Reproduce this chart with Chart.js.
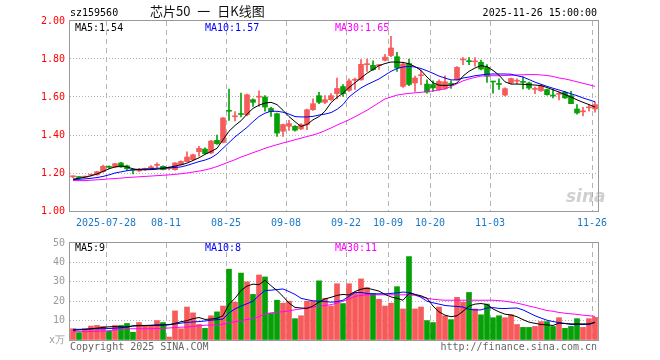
<!DOCTYPE html>
<html>
<head>
<meta charset="utf-8">
<script src="https://cdn.jsdelivr.net/npm/chart.js@4.4.1/dist/chart.umd.min.js"></script>
<style>
  body { margin: 0; background: #fff; }
  #wrap { position: relative; width: 660px; height: 360px; overflow: hidden; }
  canvas { position: absolute; left: 0; }
  .txt { position: absolute; font-family: 'DejaVu Sans Mono', monospace; font-size: 10px; line-height: 10px; white-space: pre; }
</style>
</head>
<body>
<div id="wrap">
  <canvas id="kline" width="660" height="232" style="top:0"></canvas>
  <canvas id="vol" width="660" height="128" style="top:232px"></canvas>

  <div class="txt" style="left:70px;top:8px;color:#000">sz159560</div>
  <div class="txt" style="left:150px;top:4px;font-family:'Noto Sans CJK SC',sans-serif;font-size:13px;line-height:14px;word-spacing:4px;color:#111">芯片50 一 日K线图</div>
  <div class="txt" style="left:397px;top:8px;width:200px;text-align:right;color:#000">2025-11-26 15:00:00</div>

  <div class="txt" style="left:75px;top:23px;color:#000">MA5:1.54</div>
  <div class="txt" style="left:205px;top:23px;color:#0000ff">MA10:1.57</div>
  <div class="txt" style="left:335px;top:23px;color:#ff00ff">MA30:1.65</div>

  <div class="txt" style="left:75px;top:243px;color:#000">MA5:9</div>
  <div class="txt" style="left:205px;top:243px;color:#0000ff">MA10:8</div>
  <div class="txt" style="left:335px;top:243px;color:#ff00ff">MA30:11</div>

  <div class="txt" style="left:566px;top:187px;font-family:'DejaVu Sans',sans-serif;font-size:17px;line-height:18px;font-weight:bold;font-style:italic;color:rgba(170,170,170,0.55)">sina</div>

  <div class="txt" style="left:70px;top:342px;color:#666">Copyright 2025 SINA.COM</div>
  <div class="txt" style="left:397px;top:342px;width:200px;text-align:right;color:#666">http://finance.sina.com.cn</div>
</div>

<script>
const dates = [
  '07-18','07-21','07-22','07-23','07-24','07-25','07-28','07-29','07-30','07-31',
  '08-01','08-04','08-05','08-06','08-07','08-08','08-11','08-12','08-13','08-14',
  '08-15','08-18','08-19','08-20','08-21','08-22','08-25','08-26','08-27','08-28',
  '08-29','09-01','09-02','09-03','09-04','09-05','09-08','09-09','09-10','09-11',
  '09-12','09-15','09-16','09-17','09-18','09-19','09-22','09-23','09-24','09-25',
  '09-26','09-29','09-30','10-09','10-10','10-13','10-14','10-15','10-16','10-17',
  '10-20','10-21','10-22','10-23','10-24','10-27','10-28','10-29','10-30','10-31',
  '11-03','11-04','11-05','11-06','11-07','11-10','11-11','11-12','11-13','11-14',
  '11-17','11-18','11-19','11-20','11-21','11-24','11-25','11-26'
];

// dates that get a label and a dashed line
const tickDates = ['07-28','08-11','08-25','09-08','09-22','10-09','10-20','11-03','11-26'];
const tickLabels = ['2025-07-28','08-11','08-25','09-08','09-22','10-09','10-20','11-03','11-26'];

const priceTicks = [1.0, 2.0, 0.2];   // min, max, step
const volTicks = [0, 50, 10];

const open = [
  1.180,1.178,1.178,1.188,1.190,1.207,1.232,1.231,1.253,1.238,
  1.217,1.211,1.219,1.227,1.240,1.235,1.224,1.218,1.244,1.260,
  1.270,1.312,1.326,1.305,1.372,1.361,1.530,1.496,1.512,1.507,
  1.586,1.599,1.600,1.540,1.512,1.420,1.446,1.446,1.432,1.455,
  1.533,1.607,1.572,1.586,1.618,1.655,1.635,1.688,1.690,1.770,
  1.767,1.765,1.793,1.818,1.812,1.656,1.776,1.674,1.712,1.668,
  1.665,1.639,1.645,1.670,1.691,1.795,1.790,1.785,1.783,1.756,
  1.681,1.668,1.610,1.674,1.683,1.680,1.674,1.640,1.633,1.639,
  1.608,1.614,1.625,1.607,1.537,1.522,1.543,1.537
];
const high = [
  1.185,1.180,1.184,1.194,1.209,1.242,1.238,1.251,1.256,1.242,
  1.220,1.224,1.226,1.239,1.253,1.238,1.232,1.255,1.264,1.312,
  1.300,1.340,1.332,1.372,1.400,1.492,1.642,1.523,1.620,1.615,
  1.590,1.632,1.607,1.545,1.515,1.458,1.477,1.450,1.460,1.536,
  1.590,1.625,1.607,1.618,1.700,1.665,1.695,1.700,1.797,1.800,
  1.790,1.772,1.825,1.919,1.835,1.780,1.800,1.710,1.740,1.690,
  1.685,1.690,1.712,1.685,1.760,1.808,1.808,1.808,1.794,1.770,
  1.682,1.696,1.648,1.700,1.696,1.706,1.678,1.652,1.665,1.642,
  1.640,1.626,1.630,1.630,1.560,1.545,1.560,1.575
];
const low = [
  1.175,1.172,1.176,1.184,1.188,1.205,1.224,1.229,1.230,1.214,
  1.195,1.208,1.214,1.224,1.228,1.216,1.216,1.215,1.242,1.258,
  1.266,1.288,1.300,1.300,1.350,1.358,1.477,1.474,1.495,1.500,
  1.550,1.550,1.525,1.498,1.393,1.393,1.424,1.420,1.428,1.428,
  1.530,1.565,1.565,1.582,1.590,1.603,1.630,1.640,1.688,1.735,
  1.740,1.745,1.790,1.812,1.735,1.650,1.660,1.630,1.665,1.620,
  1.630,1.636,1.640,1.645,1.688,1.770,1.770,1.762,1.743,1.677,
  1.620,1.640,1.606,1.670,1.670,1.643,1.640,1.618,1.630,1.610,
  1.595,1.585,1.592,1.565,1.510,1.500,1.525,1.520
];
const close = [
  1.182,1.176,1.181,1.190,1.207,1.235,1.230,1.249,1.232,1.222,
  1.214,1.221,1.221,1.233,1.242,1.218,1.227,1.253,1.261,1.284,
  1.296,1.330,1.302,1.368,1.354,1.490,1.525,1.499,1.508,1.612,
  1.572,1.601,1.547,1.523,1.410,1.455,1.460,1.425,1.455,1.533,
  1.565,1.572,1.586,1.607,1.645,1.618,1.685,1.692,1.772,1.775,
  1.744,1.770,1.810,1.858,1.753,1.774,1.666,1.700,1.716,1.626,
  1.648,1.682,1.680,1.666,1.756,1.798,1.786,1.790,1.747,1.709,
  1.679,1.666,1.644,1.697,1.686,1.677,1.647,1.643,1.660,1.612,
  1.605,1.616,1.595,1.565,1.516,1.526,1.546,1.560
];

const ma5 = [
  1.168,1.172,1.178,1.185,1.195,1.208,1.222,1.232,1.237,1.232,
  1.222,1.217,1.217,1.218,1.220,1.224,1.230,1.236,1.243,1.252,
  1.266,1.280,1.298,1.313,1.330,1.375,1.420,1.450,1.475,1.510,
  1.540,1.557,1.568,1.572,1.560,1.530,1.497,1.470,1.445,1.455,
  1.480,1.497,1.525,1.570,1.598,1.620,1.650,1.675,1.700,1.725,
  1.745,1.765,1.776,1.784,1.784,1.782,1.775,1.760,1.740,1.705,
  1.675,1.662,1.661,1.662,1.674,1.710,1.735,1.753,1.765,1.760,
  1.740,1.715,1.680,1.668,1.668,1.667,1.665,1.663,1.660,1.650,
  1.638,1.626,1.613,1.600,1.585,1.572,1.560,1.547
];
const ma10 = [
  1.165,1.167,1.169,1.172,1.176,1.182,1.190,1.200,1.206,1.212,
  1.217,1.219,1.221,1.223,1.225,1.226,1.227,1.229,1.232,1.240,
  1.250,1.260,1.268,1.280,1.300,1.330,1.360,1.390,1.415,1.440,
  1.470,1.497,1.515,1.525,1.525,1.520,1.510,1.497,1.495,1.495,
  1.498,1.505,1.510,1.518,1.535,1.560,1.600,1.625,1.648,1.665,
  1.680,1.695,1.715,1.735,1.750,1.758,1.761,1.758,1.750,1.738,
  1.725,1.710,1.700,1.690,1.690,1.700,1.705,1.712,1.716,1.720,
  1.721,1.721,1.721,1.720,1.712,1.705,1.692,1.678,1.667,1.656,
  1.646,1.637,1.627,1.617,1.607,1.595,1.585,1.575
];
const ma30 = [
  1.160,1.160,1.160,1.162,1.164,1.166,1.169,1.171,1.173,1.176,
  1.178,1.180,1.182,1.184,1.186,1.188,1.190,1.193,1.196,1.200,
  1.205,1.210,1.216,1.224,1.234,1.246,1.258,1.270,1.284,1.295,
  1.307,1.318,1.330,1.340,1.349,1.358,1.366,1.375,1.383,1.392,
  1.400,1.410,1.423,1.437,1.452,1.466,1.480,1.496,1.513,1.530,
  1.550,1.570,1.590,1.600,1.610,1.615,1.619,1.622,1.625,1.628,
  1.632,1.637,1.643,1.655,1.670,1.685,1.695,1.703,1.710,1.712,
  1.712,1.712,1.713,1.714,1.716,1.717,1.718,1.718,1.716,1.713,
  1.708,1.700,1.695,1.688,1.680,1.672,1.664,1.656
];

// volume, in 万
const volume = [
  5.8,3.8,5.8,7.2,7.5,7.0,4.5,7.5,7.5,8.5,
  4.0,9.0,7.5,7.5,10.0,9.0,1.5,15.0,5.8,17.0,
  14.0,8.0,6.0,12.5,14.5,17.5,36.5,19.5,34.5,30.0,
  23.5,33.5,32.5,13.7,20.5,19.0,20.0,11.0,12.5,20.0,
  20.0,30.5,21.5,17.5,29.0,18.8,29.0,24.5,31.5,27.0,
  24.0,21.0,17.5,19.0,27.5,16.0,43.0,16.0,17.0,10.0,
  9.0,17.0,12.5,10.5,22.0,19.5,24.5,16.0,13.0,18.5,
  11.5,12.5,11.5,13.0,8.0,6.5,6.5,7.0,9.5,9.5,
  7.0,11.5,6.0,7.0,11.0,6.5,11.0,11.7
];
const volMa5 = [
  5.0,5.2,5.4,5.8,6.1,6.5,6.8,6.9,6.8,6.7,
  7.3,7.5,7.5,7.6,7.8,7.8,7.9,8.6,9.4,10.0,
  11.0,11.6,10.6,10.8,11.2,12.5,18.5,21.5,25.5,27.8,
  28.8,28.5,30.8,28.0,25.5,22.5,19.0,16.8,16.5,16.3,
  17.5,19.5,21.2,22.0,23.0,23.5,23.2,25.0,26.2,26.7,
  26.0,25.2,23.5,22.2,21.5,20.5,24.0,23.5,22.8,21.5,
  17.5,14.5,12.8,12.0,12.5,14.8,17.5,18.5,18.8,18.3,
  16.0,14.5,13.3,12.9,12.0,10.5,9.2,8.6,8.0,7.8,
  7.5,8.7,8.5,8.3,8.3,8.3,8.3,9.2
];
const volMa10 = [
  5.5,5.5,5.6,5.7,5.8,5.8,5.9,6.1,6.3,6.8,
  7.2,7.3,7.4,7.5,7.5,7.6,7.9,8.2,8.7,9.1,
  9.3,9.5,9.8,10.2,10.5,10.8,14.0,16.0,17.5,18.7,
  20.0,23.0,25.5,25.7,26.0,26.3,25.0,23.5,21.5,20.8,
  20.2,20.0,19.8,19.5,19.8,20.5,22.5,24.5,24.5,24.0,
  23.8,23.8,23.8,24.0,24.3,24.7,24.5,23.5,22.0,20.0,
  19.2,18.5,17.8,17.5,17.3,17.0,15.8,15.5,15.5,16.5,
  16.7,16.3,16.2,16.4,16.5,15.5,14.0,12.5,11.3,10.2,
  9.5,9.0,8.5,8.0,8.0,8.0,8.0,9.0
];
const volMa30 = [
  4.2,4.3,4.3,4.4,4.5,4.6,4.8,5.2,5.6,5.8,
  5.8,5.8,5.8,5.8,5.9,6.0,6.2,6.4,6.6,6.7,
  7.0,7.3,7.6,7.7,7.8,8.2,8.8,9.4,10.0,10.6,
  11.1,12.0,13.5,14.0,14.3,14.6,15.0,15.6,16.0,16.5,
  17.0,17.5,17.8,18.2,19.0,20.0,21.2,22.5,23.0,23.3,
  23.3,23.3,23.3,23.3,23.3,23.3,23.3,23.0,22.3,21.5,
  21.0,20.7,20.5,20.5,20.5,20.5,20.5,20.5,20.5,20.5,
  20.5,20.3,20.0,19.5,19.0,18.3,17.5,16.8,16.0,15.2,
  14.8,14.2,13.8,13.5,13.2,12.8,12.5,12.2
];

const RED = '#f65a5a';
const GREEN = '#08a008';
const GRID = '#b4b4b4';
const FRAME = '#999999';

Chart.defaults.font.family = "'DejaVu Sans Mono', monospace";
Chart.defaults.font.size = 10;
Chart.defaults.animation = false;

const upColors = open.map((o, i) => close[i] >= o ? RED : GREEN);

// solid box round the plot area
const framePlugin = {
  id: 'frame',
  afterDraw(chart) {
    const a = chart.chartArea;
    const ctx = chart.ctx;
    ctx.save();
    ctx.strokeStyle = FRAME;
    ctx.lineWidth = 1;
    ctx.strokeRect(Math.round(a.left) - 0.5, Math.round(a.top) - 0.5,
      Math.round(a.right - a.left) + 1, Math.round(a.bottom - a.top) + 1);
    ctx.restore();
  }
};

function lineSet(data, color) {
  return {
    type: 'line', data, borderColor: color, borderWidth: 1,
    pointRadius: 0, tension: 0, order: 0
  };
}

function xScale(showLabels, height) {
  return {
    type: 'category',
    offset: true,
    grid: {
      offset: true,
      drawTicks: false,
      lineWidth: 1,
      color: (c) => tickDates.includes(dates[c.index]) ? GRID : 'transparent'
    },
    border: { display: false, dash: [5, 4] },
    ticks: {
      display: showLabels,
      autoSkip: false,
      maxRotation: 0,
      minRotation: 0,
      padding: 6,
      labelOffset: -3,
      color: '#1a78c8',
      callback: (v, i) => {
        const k = tickDates.indexOf(dates[i]);
        return k >= 0 ? tickLabels[k] : '';
      }
    },
    afterFit: (s) => { s.height = height; }
  };
}

function yScale(range, labelColor, fmt) {
  return {
    min: range[0], max: range[1],
    grid: {
      drawTicks: false,
      color: (c) => (c.tick && (Math.abs(c.tick.value - range[0]) < 1e-6 ||
        Math.abs(c.tick.value - range[1]) < 1e-6)) ? 'transparent' : GRID
    },
    border: { display: false, dash: [1, 2] },
    ticks: { stepSize: range[2], padding: 5, color: labelColor, callback: fmt },
    afterFit: (s) => { s.width = 70; }
  };
}

new Chart(document.getElementById('kline'), {
  type: 'bar',
  data: {
    labels: dates,
    datasets: [
      lineSet(ma5, '#000000'),
      lineSet(ma10, '#0000ff'),
      lineSet(ma30, '#ff00ff'),
      {
        // candle bodies
        data: open.map((o, i) => [o, close[i]]),
        backgroundColor: upColors,
        barThickness: 5,
        minBarLength: 1,
        grouped: false,
        order: 1
      },
      {
        // wicks
        data: low.map((l, i) => [l, high[i]]),
        backgroundColor: upColors,
        barThickness: 1,
        grouped: false,
        order: 2
      }
    ]
  },
  options: {
    responsive: false,
    devicePixelRatio: 1,
    layout: { padding: { top: 21, right: 62, left: 0, bottom: 0 } },
    plugins: { legend: { display: false }, tooltip: { enabled: false } },
    scales: {
      x: xScale(true, 21),
      y: yScale(priceTicks, '#ff0000', (v) => v.toFixed(2))
    }
  },
  plugins: [framePlugin]
});

new Chart(document.getElementById('vol'), {
  type: 'bar',
  data: {
    labels: dates,
    datasets: [
      lineSet(volMa5, '#000000'),
      lineSet(volMa10, '#0000ff'),
      lineSet(volMa30, '#ff00ff'),
      {
        data: volume,
        backgroundColor: upColors,
        barThickness: 5,
        grouped: false,
        order: 1
      }
    ]
  },
  options: {
    responsive: false,
    devicePixelRatio: 1,
    layout: { padding: { top: 8, right: 62, left: 0, bottom: 0 } },
    plugins: { legend: { display: false }, tooltip: { enabled: false } },
    scales: {
      x: xScale(false, 20),
      y: yScale(volTicks, '#999999', (v) => v === 0 ? 'x万' : v)
    }
  },
  plugins: [framePlugin]
});
</script>
</body>
</html>
